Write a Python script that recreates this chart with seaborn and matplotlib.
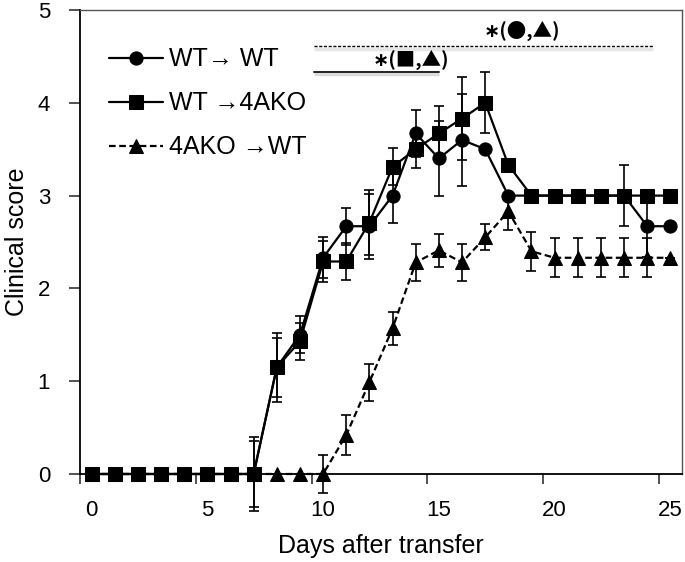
import matplotlib
matplotlib.use("Agg")
import matplotlib.pyplot as plt
import numpy as np
import pandas as pd
import seaborn as sns

# days after transfer (0..25)
days = list(range(26))

groups = ["WT\u2192 WT", "WT \u21924AKO", "4AKO \u2192WT"]

wt_wt = [0, 0, 0, 0, 0, 0, 0, 0, 1.15, 1.5, 2.33, 2.67, 2.67, 3.0, 3.67, 3.4,
         3.6, 3.5, 3.0, 3.0, 3.0, 3.0, 3.0, 3.0, 2.67, 2.67]
wt_wt_err = [0, 0, 0, 0, 0, 0, 0, 0.4, 0.37, 0.2, 0.22, 0.2, 0.35, 0.3, 0.25, 0.4,
             0.5, 0, 0, 0, 0, 0, 0, 0.33, 0.33, 0]

wt_ko = [0, 0, 0, 0, 0, 0, 0, 0, 1.15, 1.43, 2.29, 2.29, 2.71, 3.31, 3.5, 3.67,
         3.83, 4.0, 3.33, 3.0, 3.0, 3.0, 3.0, 3.0, 3.0, 3.0]
wt_ko_err = [0, 0, 0, 0, 0, 0, 0, 0.36, 0.32, 0.2, 0.22, 0.2, 0.35, 0.2, 0.2, 0.3,
             0.45, 0.33, 0, 0, 0, 0, 0, 0, 0, 0]

ko_wt = [0, 0, 0, 0, 0, 0, 0, 0, 0, 0, 0, 0.42, 0.99, 1.57, 2.28, 2.41,
         2.28, 2.55, 2.83, 2.4, 2.33, 2.33, 2.33, 2.33, 2.33, 2.33]
ko_wt_err = [0, 0, 0, 0, 0, 0, 0, 0, 0, 0, 0.2, 0.22, 0.2, 0.18, 0.2, 0.18,
             0.2, 0.14, 0.2, 0.21, 0.21, 0.21, 0.21, 0.21, 0.21, 0]

series = {groups[0]: (wt_wt, wt_wt_err),
          groups[1]: (wt_ko, wt_ko_err),
          groups[2]: (ko_wt, ko_wt_err)}

df = pd.concat([pd.DataFrame({"day": days, "score": v, "err": e, "group": g})
                for g, (v, e) in series.items()], ignore_index=True)

sns.set_theme(style="white")
plt.rcParams["font.family"] = ["Liberation Sans", "DejaVu Sans"]
plt.rcParams.update({"text.color": "black", "axes.labelcolor": "black",
                     "xtick.color": "black", "ytick.color": "black"})

fig = plt.figure(figsize=(6.85, 5.62), dpi=100)
ax = fig.add_axes([0.1168, 0.1566, 0.8788, 0.8256])

for g, (v, e) in series.items():
    ax.errorbar(days, v, yerr=e, fmt="none", ecolor="black", elinewidth=1.2,
                capsize=3.6, capthick=1.2, clip_on=False, zorder=2)

sns.lineplot(data=df, x="day", y="score", hue="group", style="group",
             palette={g: "black" for g in groups},
             markers={groups[0]: "o", groups[1]: "s", groups[2]: "^"},
             dashes={groups[0]: "", groups[1]: "", groups[2]: (3, 1.6)},
             markersize=9.5, linewidth=1.6, markeredgecolor="black",
             ax=ax, zorder=3)
for ln in ax.lines:
    ln.set_clip_on(False)

# significance bars (with a faint shadow underneath)
ax.plot([9.6, 24.25], [4.585, 4.585], color="#e6e6e6", lw=2.5, solid_capstyle="butt", zorder=1)
ax.plot([9.6, 24.25], [4.61, 4.61], color="black", lw=1, ls=(0, (2.2, 1.2)), zorder=2)
ax.plot([9.6, 15.0], [4.305, 4.305], color="#dcdcdc", lw=2.5, solid_capstyle="butt", zorder=1)
ax.plot([9.6, 15.0], [4.33, 4.33], color="#222222", lw=1.4, zorder=2)
sig_font = ["Noto Sans CJK JP", "DejaVu Sans"]
ax.text(18.6, 4.77, "\u2217(\u25cf,\u25b2)", ha="center", va="center", fontsize=14,
        fontweight="bold", family=sig_font)
ax.text(13.8, 4.46, "\u2217(\u25a0,\u25b2)", ha="center", va="center", fontsize=14,
        fontweight="bold", family=sig_font)

ax.set_xlim(-0.5, 25.5)
ax.set_ylim(0, 5)
ax.set_xticks(range(0, 26, 5))
ax.set_xticks(np.arange(-0.5, 25, 5), minor=True)
ax.set_yticks(range(0, 6))
ax.tick_params(axis="x", which="major", length=0, pad=19, labelsize=16)
ax.tick_params(axis="x", which="minor", length=7, width=1.2, color="#333333",
               direction="out", bottom=True)
ax.tick_params(axis="y", length=8, width=1.2, color="#333333", direction="out",
               pad=13.5, labelsize=16, left=True)
ax.set_xlabel("Days after transfer", fontsize=18, labelpad=9)
ax.set_ylabel("Clinical score", fontsize=18, labelpad=6)

for s in ["left", "bottom"]:
    ax.spines[s].set_color("black")
    ax.spines[s].set_linewidth(1.3)
for s in ["top", "right"]:
    ax.spines[s].set_color("#555555")
    ax.spines[s].set_linewidth(1.0)

handles, labels = ax.get_legend_handles_labels()
ax.legend(handles, labels, loc="upper left", bbox_to_anchor=(0.159, 0.9155),
          bbox_transform=fig.transFigure, frameon=False, fontsize=18,
          handlelength=2.15, handletextpad=0.25, labelspacing=0.8,
          borderpad=0, borderaxespad=0)

fig.savefig("out.png", dpi=100)
